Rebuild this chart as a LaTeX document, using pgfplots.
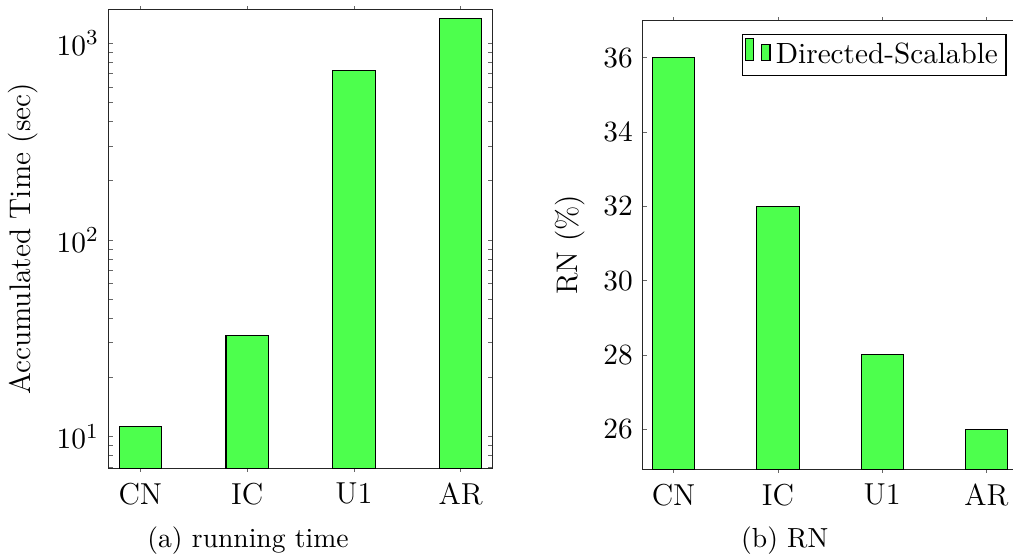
\documentclass[border=0pt]{standalone}
\usepackage{pgfplots}
\pgfplotsset{compat=1.18}
\definecolor{barg}{RGB}{77,255,77}
\begin{document}
\begin{tikzpicture}
\pgfplotsset{
  every axis/.append style={
    scale only axis,
    anchor=south west,
    xmin=-0.3, xmax=3.3,
    xtick={0,1,2,3},
    xticklabels={CN,IC,U1,AR},
    ybar, bar width=15.78pt,
    major tick length=1.9pt,
    minor tick length=1.9pt,
    tick style={black!60},
    xtick style={/pgfplots/major tick length=1.2pt},
    xtick align=outside,
    axis line style={black!85},
    tick label style={font=\fontsize{11.3}{13.5}\selectfont},
    label style={font=\fontsize{11.1}{13.5}\selectfont},
  }
}
\begin{axis}[
  name=L,
  at={(40.40pt,-174.68pt)},
  width=143.38pt, height=171.2pt,
  ymode=log, ymin=6.89, ymax=1489,
  log origin=infty,
  ylabel={Accumulated Time (sec)},
]
\addplot[fill=barg, draw=black] coordinates {(0,11.2) (1,32.6) (2,731) (3,1340)};
\end{axis}
\begin{axis}[
  name=R,
  at={(239.58pt,-175.05pt)},
  width=140.06pt, height=167.36pt,
  ymin=24.92, ymax=37,
  ytick={26,28,30,32,34,36},
  ylabel={RN (\%)},
  legend style={at={(0.97,0.97)}, anchor=north east, draw=black, inner sep=1pt,
    font=\fontsize{10.9}{13}\selectfont},
]
\addplot[fill=barg, draw=black] coordinates {(0,36) (1,32) (2,28) (3,26)};
\addlegendentry{Directed-Scalable}
\end{axis}
\node[anchor=base, font=\fontsize{10.3}{12.5}\selectfont] at (92.5pt,-204.1pt) {(a) running time};
\node[anchor=base, font=\fontsize{10.3}{12.5}\selectfont] at (292.7pt,-204.1pt) {(b) RN};
\pgfresetboundingbox
\path[use as bounding box] (0pt,0pt) rectangle (377.85pt,-207.76pt);
\end{tikzpicture}
\end{document}
